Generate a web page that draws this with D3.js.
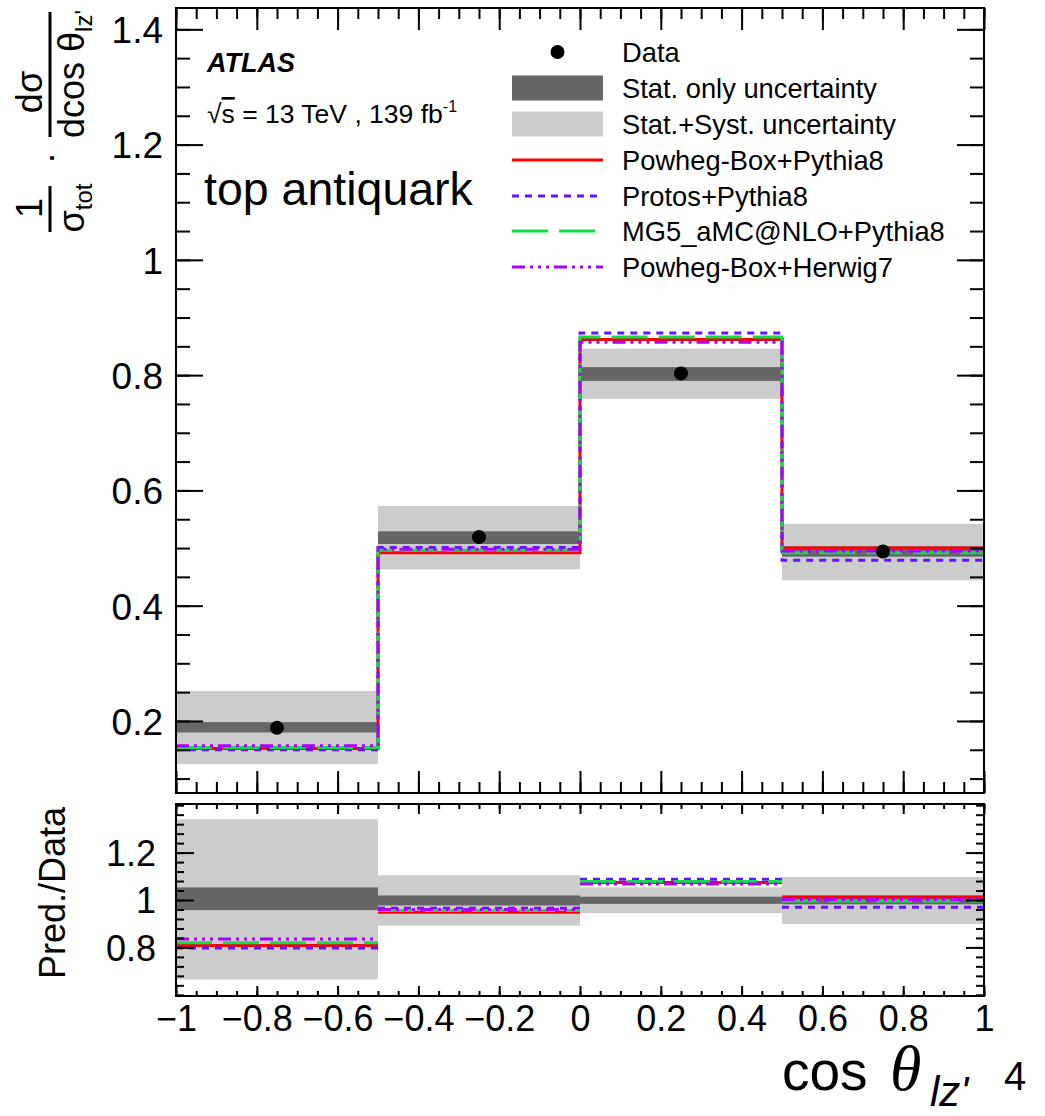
<!DOCTYPE html>
<html>
<head>
<meta charset="utf-8">
<script src="https://cdn.jsdelivr.net/npm/d3@7"></script>
<style>
  html, body { margin: 0; padding: 0; background: #fff; }
  svg { display: block; font-family: "Liberation Sans", Arial, sans-serif; }
</style>
</head>
<body>
<svg id="chart" width="1045" height="1116"></svg>
<script>
// ---------------- data ----------------
const binEdges = [-1, -0.5, 0, 0.5, 1];
const dataVals = [0.188, 0.519, 0.803, 0.494];
const statLo   = [0.180, 0.507, 0.790, 0.485];
const statHi   = [0.198, 0.529, 0.814, 0.503];
const totLo    = [0.125, 0.463, 0.759, 0.444];
const totHi    = [0.252, 0.573, 0.846, 0.542];

const powhegPythia8 = [0.152, 0.492, 0.862, 0.500];
const protosPythia8 = [0.150, 0.501, 0.873, 0.479];
const mg5Pythia8    = [0.154, 0.496, 0.866, 0.492];
const powhegHerwig7 = [0.157, 0.498, 0.857, 0.495];

const modelNames  = ["Powheg-Box+Pythia8", "Protos+Pythia8", "MG5_aMC@NLO+Pythia8", "Powheg-Box+Herwig7"];
const xTickLabels = [-1, -0.8, -0.6, -0.4, -0.2, 0, 0.2, 0.4, 0.6, 0.8, 1];
const yTickLabelsTop   = [0.2, 0.4, 0.6, 0.8, 1, 1.2, 1.4];
const yTickLabelsRatio = [0.8, 1, 1.2];

// ---------------- styles ----------------
const modelStyles = [
  { color: "#ff0000", dash: null },
  { color: "#6611ff", dash: "7,6" },
  { color: "#11dd44", dash: "36,11" },
  { color: "#aa00ff", dash: "13,5,3,5,3,5,3,5" }
];
const models = [powhegPythia8, protosPythia8, mg5Pythia8, powhegHerwig7];

const svg = d3.select("#chart");
const L = 176, R = 984;
const topY0 = 8, topY1 = 793;
const ratY0 = 804, ratY1 = 996;

const x = d3.scaleLinear().domain([-1, 1]).range([L, R]);
const yTop = d3.scaleLinear().domain([0.075, 1.437]).range([topY1, topY0]);
const yRat = d3.scaleLinear().domain([0.595, 1.405]).range([ratY1, ratY0]);

const nBins = dataVals.length;
const bins = d3.range(nBins).map(i => ({ i, x0: binEdges[i], x1: binEdges[i + 1] }));

// ---------------- top panel ----------------
const gTop = svg.append("g");
gTop.selectAll("rect.tot").data(bins).join("rect")
  .attr("x", d => x(d.x0)).attr("width", d => x(d.x1) - x(d.x0))
  .attr("y", d => yTop(totHi[d.i])).attr("height", d => yTop(totLo[d.i]) - yTop(totHi[d.i]))
  .attr("fill", "#cccccc");
gTop.selectAll("rect.stat").data(bins).join("rect")
  .attr("x", d => x(d.x0)).attr("width", d => x(d.x1) - x(d.x0))
  .attr("y", d => yTop(statHi[d.i])).attr("height", d => yTop(statLo[d.i]) - yTop(statHi[d.i]))
  .attr("fill", "#666666");

const stepLine = d3.line().x(d => x(d[0])).y(d => yTop(d[1])).curve(d3.curveStepAfter);
models.forEach((m, k) => {
  const pts = binEdges.map((e, i) => [e, m[Math.min(i, nBins - 1)]]);
  gTop.append("path").attr("d", stepLine(pts))
    .attr("fill", "none").attr("stroke", modelStyles[k].color)
    .attr("stroke-width", 3).attr("stroke-dasharray", modelStyles[k].dash);
});

gTop.selectAll("circle.data").data(bins).join("circle")
  .attr("cx", d => x((d.x0 + d.x1) / 2)).attr("cy", d => yTop(dataVals[d.i]))
  .attr("r", 7).attr("fill", "#000");

// ---------------- ratio panel ----------------
const gRat = svg.append("g");
gRat.selectAll("rect.tot").data(bins).join("rect")
  .attr("x", d => x(d.x0)).attr("width", d => x(d.x1) - x(d.x0))
  .attr("y", d => yRat(totHi[d.i] / dataVals[d.i]))
  .attr("height", d => yRat(totLo[d.i] / dataVals[d.i]) - yRat(totHi[d.i] / dataVals[d.i]))
  .attr("fill", "#cccccc");
gRat.selectAll("rect.stat").data(bins).join("rect")
  .attr("x", d => x(d.x0)).attr("width", d => x(d.x1) - x(d.x0))
  .attr("y", d => yRat(statHi[d.i] / dataVals[d.i]))
  .attr("height", d => yRat(statLo[d.i] / dataVals[d.i]) - yRat(statHi[d.i] / dataVals[d.i]))
  .attr("fill", "#666666");
models.forEach((m, k) => {
  gRat.selectAll(null).data(bins).join("line")
    .attr("x1", d => x(d.x0)).attr("x2", d => x(d.x1))
    .attr("y1", d => yRat(m[d.i] / dataVals[d.i])).attr("y2", d => yRat(m[d.i] / dataVals[d.i]))
    .attr("stroke", modelStyles[k].color).attr("stroke-width", 3)
    .attr("stroke-dasharray", modelStyles[k].dash);
});

// ---------------- axes ----------------
const round = v => Math.round(v * 1000) / 1000;
const xMinor = d3.range(0, 41).map(i => round(-1 + i * 0.05));
const yTopMinor = d3.range(0, 27).map(i => round(0.1 + i * 0.05));
const yRatMinor = d3.range(0, 21).map(i => round(0.6 + i * 0.04));

function styleAxis(g) {
  g.select(".domain").remove();
  g.selectAll(".tick line").attr("stroke", "#000").attr("stroke-width", 2);
  g.selectAll("text").attr("fill", "#000").attr("font-family", "Liberation Sans, Arial, sans-serif");
}
function addAxis(axis, tx, ty) {
  const g = svg.append("g").attr("transform", `translate(${tx},${ty})`).call(axis);
  styleAxis(g);
  return g;
}
// top panel
addAxis(d3.axisBottom(x).tickValues(xMinor).tickSize(-11).tickFormat(""), 0, topY1);
addAxis(d3.axisBottom(x).tickValues(xTickLabels).tickSize(-22).tickFormat(""), 0, topY1);
addAxis(d3.axisTop(x).tickValues(xMinor).tickSize(-11).tickFormat(""), 0, topY0);
addAxis(d3.axisTop(x).tickValues(xTickLabels).tickSize(-22).tickFormat(""), 0, topY0);
addAxis(d3.axisLeft(yTop).tickValues(yTopMinor).tickSize(-14).tickFormat(""), L, 0);
addAxis(d3.axisRight(yTop).tickValues(yTopMinor).tickSize(-14).tickFormat(""), R, 0);
addAxis(d3.axisRight(yTop).tickValues(yTickLabelsTop).tickSize(-27).tickFormat(""), R, 0);
const yLab = addAxis(d3.axisLeft(yTop).tickValues(yTickLabelsTop).tickSize(-27).tickPadding(13).tickFormat(d3.format("")), L, 0);
yLab.selectAll("text").attr("font-size", 37).attr("dy", "0.36em");

// ratio panel
addAxis(d3.axisBottom(x).tickValues(xMinor).tickSize(-5).tickFormat(""), 0, ratY1);
const xLab = addAxis(d3.axisBottom(x).tickValues(xTickLabels).tickSize(-10).tickPadding(9).tickFormat(d3.format("")), 0, ratY1);
xLab.selectAll("text").attr("font-size", 36);
addAxis(d3.axisTop(x).tickValues(xMinor).tickSize(-5).tickFormat(""), 0, ratY0);
addAxis(d3.axisTop(x).tickValues(xTickLabels).tickSize(-10).tickFormat(""), 0, ratY0);
addAxis(d3.axisLeft(yRat).tickValues(yRatMinor).tickSize(-8).tickFormat(""), L, 0);
addAxis(d3.axisRight(yRat).tickValues(yRatMinor).tickSize(-8).tickFormat(""), R, 0);
addAxis(d3.axisRight(yRat).tickValues(yTickLabelsRatio).tickSize(-18).tickFormat(""), R, 0);
const yrLab = addAxis(d3.axisLeft(yRat).tickValues(yTickLabelsRatio).tickSize(-18).tickPadding(20).tickFormat(d3.format("")), L, 0);
yrLab.selectAll("text").attr("font-size", 36).attr("dy", "0.36em");

// frames
svg.append("rect").attr("x", L).attr("y", topY0).attr("width", R - L).attr("height", topY1 - topY0)
  .attr("fill", "none").attr("stroke", "#000").attr("stroke-width", 2);
svg.append("rect").attr("x", L).attr("y", ratY0).attr("width", R - L).attr("height", ratY1 - ratY0)
  .attr("fill", "none").attr("stroke", "#000").attr("stroke-width", 2);

// ---------------- texts ----------------
svg.append("text").attr("x", 207).attr("y", 72).attr("font-size", 27)
  .attr("font-weight", "bold").attr("font-style", "italic").text("ATLAS");
const lumi = svg.append("text").attr("x", 207).attr("y", 123).attr("font-size", 26.5);
lumi.append("tspan").text("√");
lumi.append("tspan").attr("text-decoration", "overline").text("s");
lumi.append("tspan").text(" = 13 TeV , 139 fb");
lumi.append("tspan").attr("font-size", 16).attr("dy", -11).text("-1");
svg.append("text").attr("x", 204).attr("y", 205).attr("font-size", 46.5).text("top antiquark");

// legend
const legX0 = 512, legX1 = 603, legTextX = 622;
const legRows = [52, 88, 124, 160, 196, 231, 267];
const legLabels = ["Data", "Stat. only uncertainty", "Stat.+Syst. uncertainty"].concat(modelNames);
const gLeg = svg.append("g");
gLeg.append("circle").attr("cx", (legX0 + legX1) / 2).attr("cy", legRows[0]).attr("r", 7).attr("fill", "#000");
gLeg.append("rect").attr("x", legX0).attr("y", legRows[1] - 12.5).attr("width", legX1 - legX0).attr("height", 25).attr("fill", "#666666");
gLeg.append("rect").attr("x", legX0).attr("y", legRows[2] - 12.5).attr("width", legX1 - legX0).attr("height", 25).attr("fill", "#cccccc");
modelStyles.forEach((s, k) => {
  gLeg.append("line").attr("x1", legX0).attr("x2", legX1)
    .attr("y1", legRows[3 + k]).attr("y2", legRows[3 + k])
    .attr("stroke", s.color).attr("stroke-width", 3).attr("stroke-dasharray", s.dash);
});
gLeg.selectAll("text").data(legLabels).join("text")
  .attr("x", legTextX).attr("y", (d, i) => legRows[i] + 9.5)
  .attr("font-size", 27.3).text(d => d);

// y-axis title (top): 1/sigma_tot . dsigma/dcos theta_lz'
const gT = svg.append("g").attr("transform", "rotate(-90)");
gT.append("text").attr("x", -92).attr("y", 42).attr("text-anchor", "middle").attr("font-size", 36).text("dσ");
const den = gT.append("text").attr("x", -74).attr("y", 84).attr("text-anchor", "middle").attr("font-size", 36);
den.append("tspan").text("dcos θ");
den.append("tspan").attr("font-size", 24).attr("dy", 8).text("lz'");
gT.append("text").attr("x", -158).attr("y", 62).attr("text-anchor", "middle").attr("font-size", 36).text("·");
gT.append("text").attr("x", -208).attr("y", 42).attr("text-anchor", "middle").attr("font-size", 36).text("1");
const den2 = gT.append("text").attr("x", -208).attr("y", 84).attr("text-anchor", "middle").attr("font-size", 36);
den2.append("tspan").text("σ");
den2.append("tspan").attr("font-size", 24).attr("dy", 8).text("tot");
svg.append("line").attr("x1", 50).attr("x2", 50).attr("y1", 12).attr("y2", 137).attr("stroke", "#000").attr("stroke-width", 3);
svg.append("line").attr("x1", 50).attr("x2", 50).attr("y1", 186).attr("y2", 232).attr("stroke", "#000").attr("stroke-width", 3);

// ratio y title
svg.append("text").attr("transform", "translate(65,893) rotate(-90)").attr("text-anchor", "middle")
  .attr("font-size", 36).text("Pred./Data");

// x-axis title
const xt = svg.append("text").attr("y", 1090);
xt.append("tspan").attr("x", 782).attr("font-size", 55).text("cos");
xt.append("tspan").attr("x", 890).attr("font-size", 64).attr("font-style", "italic")
  .attr("font-family", "Liberation Serif, Times New Roman, serif").text("θ");
xt.append("tspan").attr("x", 930).attr("y", 1106).attr("font-size", 42).attr("font-style", "italic").text("lz'");
xt.append("tspan").attr("x", 1004).attr("y", 1090).attr("font-size", 40).text("4");
</script>
</body>
</html>
